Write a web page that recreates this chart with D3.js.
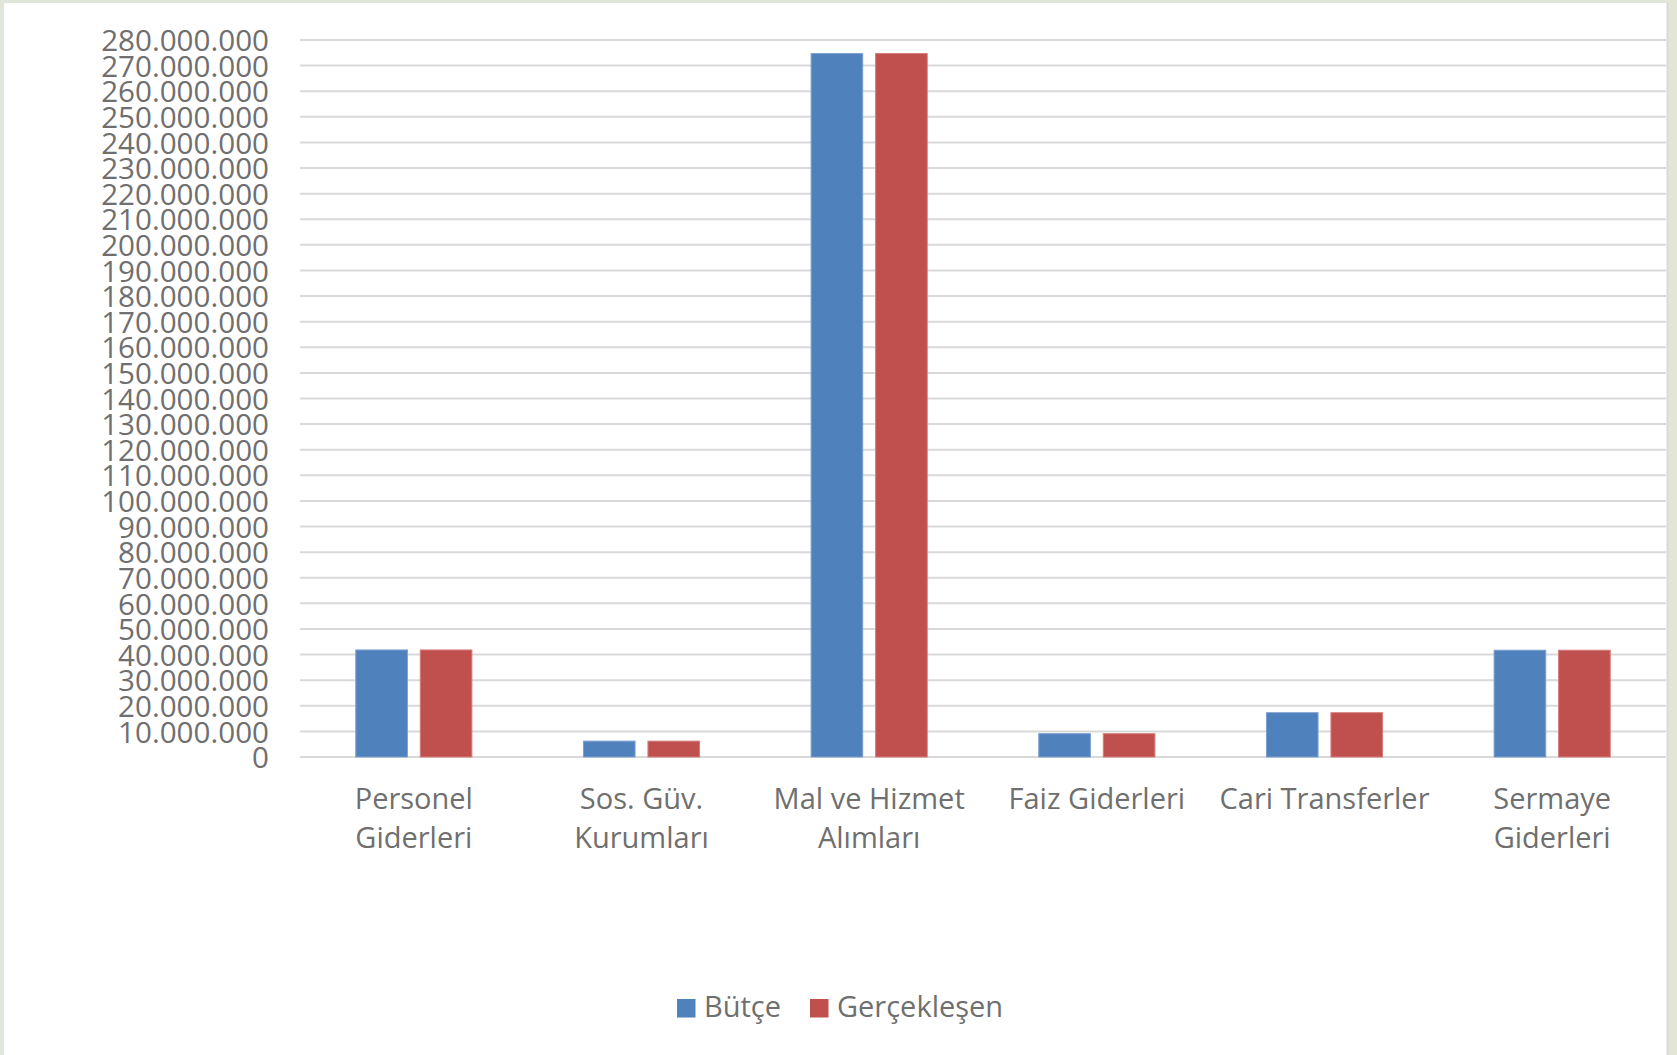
<!DOCTYPE html>
<html>
<head>
<meta charset="utf-8">
<script src="https://cdn.jsdelivr.net/npm/d3@7"></script>
<style>
  html, body { margin: 0; padding: 0; background: #e1e6da; }
  svg { display: block; }
  text { font-family: "Open Sans", "Noto Sans", sans-serif; fill: #6f6f6f; }
</style>
</head>
<body>
<svg id="chart" width="1677" height="1055"></svg>
<script>
// ---- Data ----
const categories = ["Personel Giderleri", "Sos. Güv. Kurumları", "Mal ve Hizmet Alımları", "Faiz Giderleri", "Cari Transferler", "Sermaye Giderleri"];
const categoryLines = [["Personel", "Giderleri"], ["Sos. Güv.", "Kurumları"], ["Mal ve Hizmet", "Alımları"], ["Faiz Giderleri"], ["Cari Transferler"], ["Sermaye", "Giderleri"]];
const seriesNames = ["Bütçe", "Gerçekleşen"];
const butce = [41800000, 6200000, 274700000, 9100000, 17300000, 41700000];
const gerceklesen = [41800000, 6200000, 274700000, 9100000, 17300000, 41700000];
const yTicks = d3.range(0, 280000001, 10000000);
const colors = ["#4f81bd", "#c0504d"];
const strokes = ["#7b9fd0", "#d67c79"];

// ---- Layout ----
const svg = d3.select("#chart");
const W = 1677, H = 1055;
const plot = { left: 300, right: 1666, top: 40, bottom: 757 };

// background panel
svg.append("rect").attr("x", 0).attr("y", 0).attr("width", W).attr("height", H).attr("fill", "#e1e6da");
svg.append("rect").attr("x", 1668).attr("y", 0).attr("width", 9).attr("height", H).attr("fill", "#e3e6d4");
svg.append("rect").attr("x", 4).attr("y", 3).attr("width", 1664).attr("height", H - 3).attr("fill", "#ffffff");
svg.append("line").attr("x1", 1667.5).attr("x2", 1667.5).attr("y1", 3).attr("y2", H).attr("stroke", "#d9d9d9").attr("stroke-width", 2);

const locale = d3.formatLocale({ decimal: ",", thousands: ".", grouping: [3], currency: ["", ""] });
const fmt = locale.format(",d");

const x0 = d3.scaleBand().domain(categories).range([plot.left, plot.right]).paddingInner(0).paddingOuter(0);
const groupW = x0.bandwidth() * 0.51;
const x1 = d3.scaleBand().domain(seriesNames).range([0, groupW]).paddingInner(0.2).paddingOuter(0);
const y = d3.scaleLinear().domain([0, 280000000]).range([plot.bottom, plot.top]);

// gridlines
svg.append("g")
  .selectAll("line").data(yTicks).join("line")
  .attr("x1", plot.left).attr("x2", plot.right)
  .attr("y1", d => y(d)).attr("y2", d => y(d))
  .attr("stroke", "#d9d9d9").attr("stroke-width", 2);

// y axis labels
const yAxis = d3.axisLeft(y).tickValues(yTicks).tickFormat(fmt).tickSize(0).tickPadding(0);
const gy = svg.append("g").attr("transform", "translate(269,0)").call(yAxis);
gy.select(".domain").remove();
gy.selectAll("text").attr("font-size", "29.6px").attr("fill", "#6f6f6f")
  .attr("font-family", "'Open Sans', sans-serif").attr("dy", "0.36em");

// bars
const series = [butce, gerceklesen];
const groups = svg.append("g").selectAll("g").data(categories).join("g")
  .attr("transform", d => `translate(${x0(d) + (x0.bandwidth() - groupW) / 2},0)`);
groups.selectAll("rect").data((d, i) => seriesNames.map((s, j) => ({ s, j, v: series[j][i] })))
  .join("rect")
  .attr("x", d => x1(d.s))
  .attr("width", x1.bandwidth())
  .attr("y", d => y(d.v))
  .attr("height", d => y(0) - y(d.v))
  .attr("fill", d => colors[d.j])
  .attr("stroke", d => strokes[d.j])
  .attr("stroke-width", 1);

// category labels
const lab = svg.append("g").selectAll("text").data(categories).join("text")
  .attr("text-anchor", "middle")
  .attr("font-size", "29px")
  .attr("x", d => x0(d) + x0.bandwidth() / 2)
  .attr("y", 809);
lab.each(function (d, i) {
  d3.select(this).selectAll("tspan").data(categoryLines[i]).join("tspan")
    .attr("x", x0(d) + x0.bandwidth() / 2)
    .attr("dy", (t, k) => k === 0 ? 0 : 39)
    .text(t => t);
});

// legend
const legend = [{ name: seriesNames[0], x: 677 }, { name: seriesNames[1], x: 810 }];
const lg = svg.append("g").selectAll("g").data(legend).join("g")
  .attr("transform", d => `translate(${d.x},999)`);
lg.append("rect").attr("width", 18.5).attr("height", 18.5).attr("fill", (d, i) => colors[i]);
lg.append("text").attr("x", 27).attr("y", 17.5).attr("font-size", "29px").text(d => d.name);
</script>
</body>
</html>
